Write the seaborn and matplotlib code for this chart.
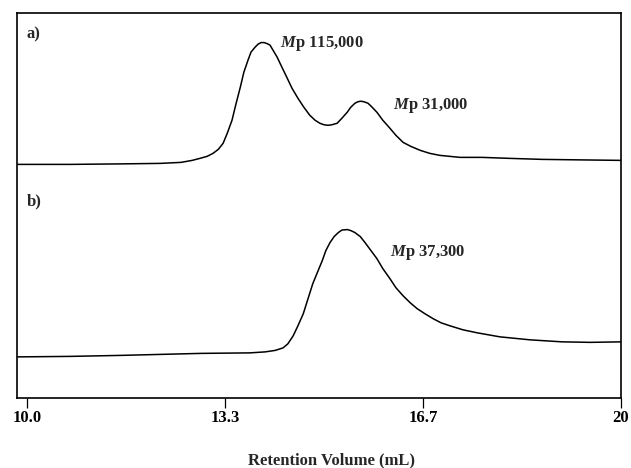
import numpy as np
import pandas as pd
import matplotlib
matplotlib.use("Agg")
import matplotlib.pyplot as plt
import seaborn as sns

# GPC traces (retention volume in mL, detector response in arbitrary units)
vol_a = [9.83, 10.72, 11.58, 12.24, 12.59, 12.78, 12.91, 13.03, 13.13, 13.22, 13.30,
         13.37, 13.45, 13.52, 13.59, 13.65, 13.72, 13.77, 13.84, 13.89, 13.94, 13.99,
         14.04, 14.09, 14.14, 14.21, 14.29, 14.38, 14.46, 14.56, 14.66, 14.76, 14.85,
         14.93, 15.00, 15.07, 15.13, 15.22, 15.30, 15.39, 15.45, 15.52, 15.57, 15.62,
         15.67, 15.74, 15.81, 15.89, 15.99, 16.11, 16.21, 16.33, 16.46, 16.62, 16.78,
         16.95, 17.29, 17.66, 18.13, 18.67, 19.31, 20.00]
resp_a = [233, 233, 233.5, 234, 235, 237, 239, 241, 244, 248, 254,
          264, 277, 294, 310, 325, 337, 345, 350, 353, 354.5, 354.5,
          353.5, 352, 347, 340, 330, 319, 309, 299, 290, 282, 277,
          274, 272.5, 272, 272.5, 274, 279, 285, 290, 294, 295.5, 296,
          295.5, 294, 290, 285, 277, 269, 262, 255, 251, 247, 244,
          242, 240, 240, 239, 238, 237.5, 237]

vol_b = [9.83, 10.72, 11.58, 12.93, 13.75, 14.01, 14.18, 14.31, 14.39, 14.48, 14.56,
         14.65, 14.73, 14.81, 14.90, 14.97, 15.03, 15.10, 15.17, 15.24, 15.30, 15.39,
         15.45, 15.52, 15.61, 15.69, 15.79, 15.89, 15.99, 16.11, 16.21, 16.33, 16.45,
         16.57, 16.70, 16.84, 16.97, 17.12, 17.34, 17.58, 17.96, 18.47, 19.01, 19.48,
         20.00]
resp_b = [41, 41.5, 42.5, 44.5, 45, 46, 47.5, 50, 54, 62, 72,
          84, 99, 114, 127, 137, 147, 155, 161, 165, 167.5, 168,
          167, 165, 161, 155, 147, 139, 129, 119, 110, 102, 95,
          89, 84, 79, 75, 72, 68, 65, 61, 58, 56, 55.5,
          56]

tick_vals = [10.0, 13.333, 16.667, 20.0]
tick_labels = ["10.0", "13.3", "16.7", "20"]

peak_labels = ["115,000", "31,000", "37,300"]
peak_pos = [(14.26, 354), (16.16, 292), (16.11, 145)]

sns.set_theme(style="white")
plt.rcParams['font.family'] = ['Liberation Serif', 'DejaVu Serif']
plt.rcParams['font.weight'] = 'bold'
plt.rcParams['mathtext.fontset'] = 'custom'
plt.rcParams['mathtext.it'] = 'Liberation Serif:italic:bold'
plt.rcParams['mathtext.rm'] = 'Liberation Serif:bold'

df = pd.concat([
    pd.DataFrame({'volume': vol_a, 'response': resp_a, 'trace': 'a'}),
    pd.DataFrame({'volume': vol_b, 'response': resp_b, 'trace': 'b'}),
])

fig = plt.figure(figsize=(6.31, 4.68), dpi=100)
ax = fig.add_axes([17 / 631, 70 / 468, 604 / 631, 385 / 468])

for name, grp in df.groupby('trace'):
    sns.lineplot(data=grp, x='volume', y='response', ax=ax, color='black',
                 linewidth=1.1, sort=False, estimator=None)

ax.set_xlim(9.83, 20.0)
ax.set_ylim(0, 384)

for sp in ax.spines.values():
    sp.set_visible(True)
    sp.set_color('black')
    sp.set_linewidth(1.2)

ax.set_xticks(tick_vals)
ax.set_xticklabels(tick_labels, fontsize=12, fontweight='bold')
ax.tick_params(axis='x', direction='out', length=7, width=0.9, pad=2,
               bottom=True, colors='black')
ax.set_yticks([])
ax.set_xlabel('')
ax.set_ylabel('')

for lab, (x, y) in zip(peak_labels, peak_pos):
    ax.text(x, y, r'$\mathit{M}$' + 'p ' + lab, fontsize=12, fontweight='bold',
            ha='left', va='center')

ax.text(9.99, 363, 'a)', fontsize=12, fontweight='bold', ha='left', va='center')
ax.text(9.99, 196, 'b)', fontsize=12, fontweight='bold', ha='left', va='center')

fig.text(331 / 631, 8 / 468, 'Retention Volume (mL)', fontsize=12,
         fontweight='bold', ha='center', va='center')

fig.savefig('out.png', dpi=100)
